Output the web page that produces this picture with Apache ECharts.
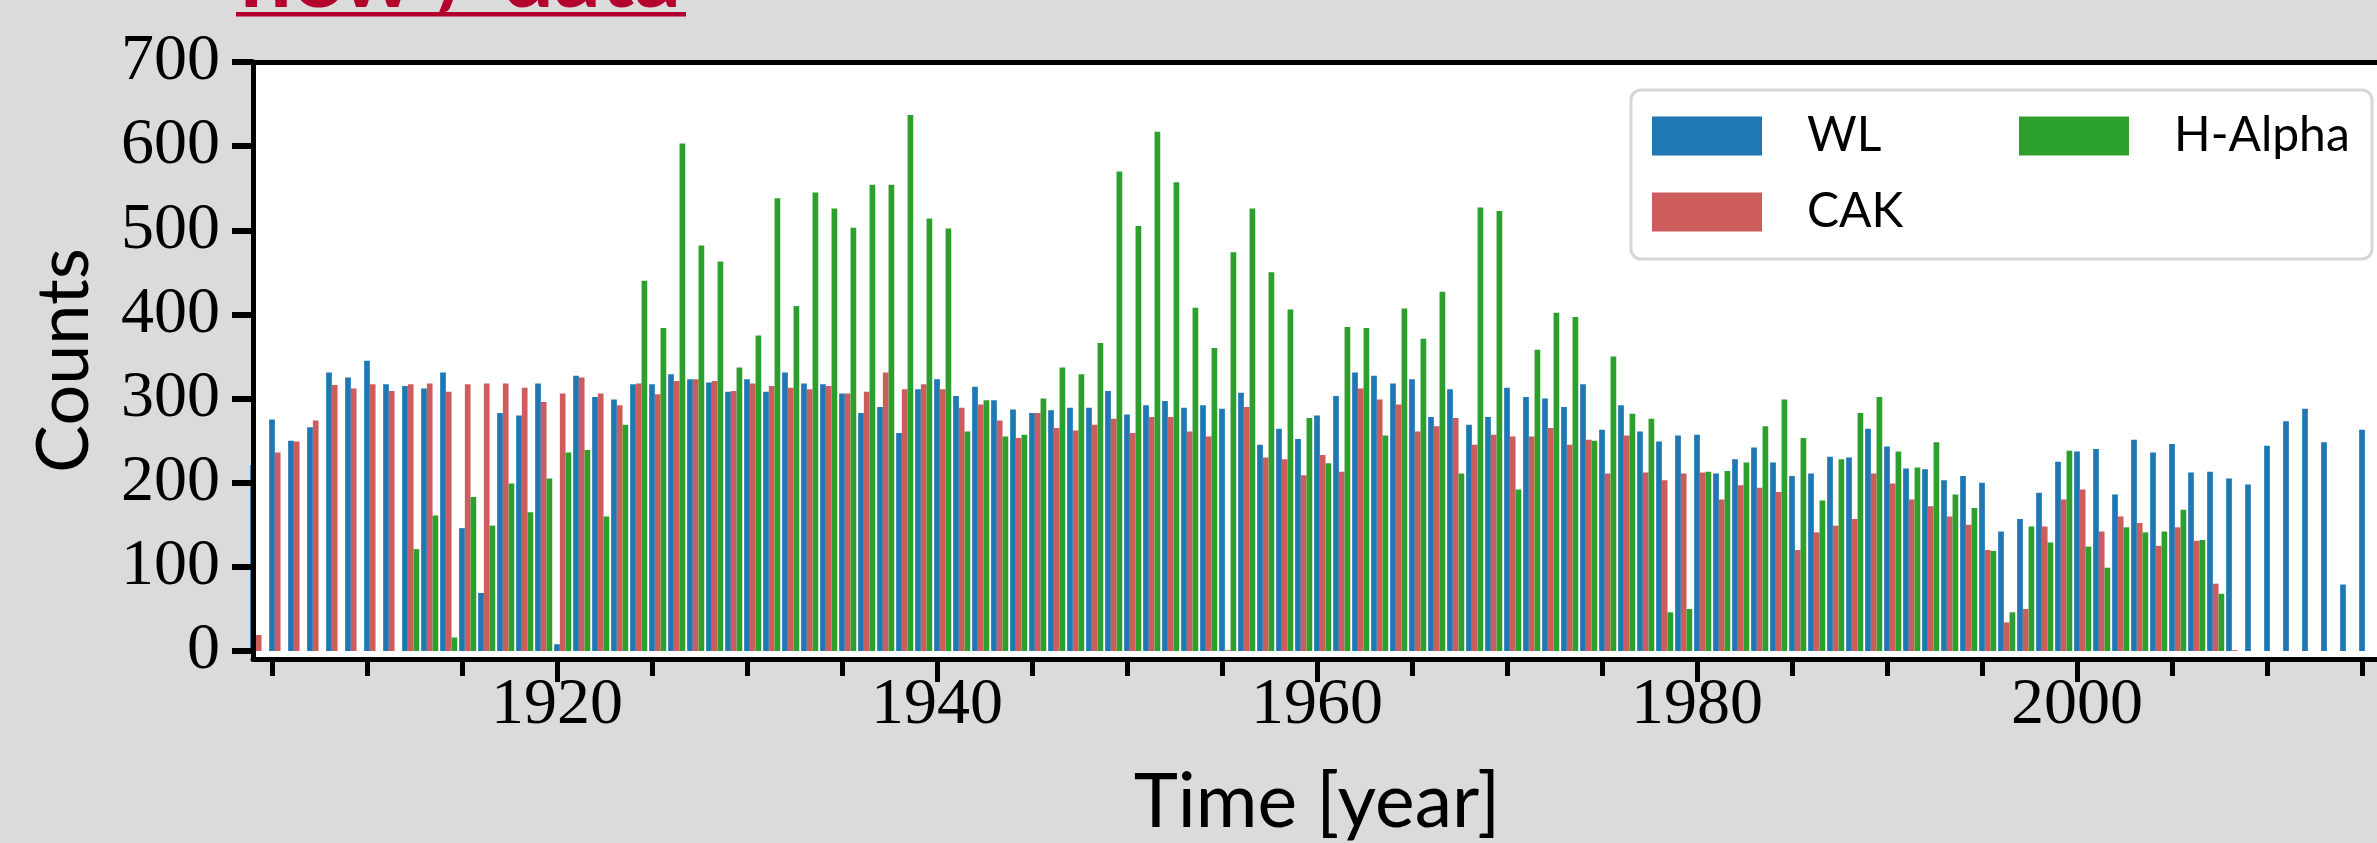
<!DOCTYPE html>
<html>
<head>
<meta charset="utf-8">
<title>Counts per year</title>
<script src="https://cdn.jsdelivr.net/npm/echarts@6/dist/echarts.min.js"></script>
<style>
    html, body { margin: 0; padding: 0; background: #dbdbdb; }
    #chart { width: 2377px; height: 843px; }
</style>
</head>
<body>
<div id="chart"></div>
<script>
// years 1904 .. 2015, one group of three bars per year
const firstYear = 1904;

const wl = [
    221, 275, 250, 266, 331, 325, 345, 317, 315, 312, 331, 146, 69, 283, 280, 318,   // 1904-1919
    8, 327, 302, 299, 317, 317, 329, 323, 319, 308, 323, 308, 331, 318, 317, 306,    // 1920-1935
    283, 290, 259, 311, 323, 303, 314, 298, 287, 283, 286, 289, 289, 309, 281, 292,  // 1936-1951
    297, 289, 292, 288, 307, 245, 264, 252, 280, 303, 331, 327, 318, 323, 278, 311,  // 1952-1967
    269, 278, 313, 302, 300, 290, 317, 263, 292, 261, 249, 256, 257, 211, 228, 242,  // 1968-1983
    224, 208, 211, 231, 230, 264, 243, 217, 216, 203, 208, 200, 142, 157, 188, 225,  // 1984-1999
    237, 240, 186, 251, 236, 246, 212, 213, 205, 198, 244, 273, 288, 248, 79, 263    // 2000-2015
];

const cak = [
    19, 236, 249, 274, 316, 312, 317, 309, 317, 318, 308, 317, 318, 318, 313, 296,   // 1904-1919
    306, 325, 306, 292, 318, 305, 321, 323, 321, 309, 318, 315, 313, 311, 315, 306,  // 1920-1935
    308, 331, 311, 317, 311, 289, 293, 274, 253, 283, 265, 262, 269, 276, 259, 278,  // 1936-1951
    278, 261, 255, 1, 290, 230, 228, 209, 233, 213, 312, 299, 293, 261, 267, 277,    // 1952-1967
    245, 257, 255, 255, 265, 245, 251, 211, 256, 212, 203, 211, 212, 180, 197, 194,  // 1968-1983
    189, 120, 141, 149, 157, 211, 199, 180, 172, 160, 150, 120, 34, 50, 148, 180,    // 1984-1999
    192, 142, 160, 152, 125, 147, 131, 80, 1, null, null, null, null, null, null, null // 2000-2015
];

const hAlpha = [
    null, null, null, null, null, null, null, null, 121, 161, 16, 183, 149, 199, 165, 205, // 1904-1919
    236, 239, 160, 269, 440, 384, 603, 482, 463, 337, 375, 538, 410, 545, 526, 503,        // 1920-1935
    554, 554, 637, 514, 502, 261, 298, 255, 257, 300, 337, 329, 366, 570, 505, 617,        // 1936-1951
    557, 408, 360, 474, 526, 450, 406, 277, 223, 385, 384, 256, 407, 371, 427, 211,        // 1952-1967
    527, 523, 192, 358, 402, 397, 250, 350, 282, 276, 46, 50, 213, 214, 224, 267,          // 1968-1983
    299, 253, 179, 228, 283, 302, 237, 218, 248, 186, 170, 119, 46, 148, 129, 238,         // 1984-1999
    124, 99, 147, 141, 142, 168, 132, 68, null, null, null, null, null, null, null, null   // 2000-2015
];

const years = wl.map((v, i) => firstYear + i);

// tick labels
const majorYears = [1920, 1940, 1960, 1980, 2000];
const minorYears = [1905, 1910, 1915, 1925, 1930, 1935, 1945, 1950, 1955, 1965, 1970, 1975,
    1985, 1990, 1995, 2005, 2010, 2015];
const countTicks = [0, 100, 200, 300, 400, 500, 600, 700];
const minorCounts = [];
for (let c = 20; c < 700; c += 20) {
    if (c % 100 !== 0) minorCounts.push(c);
}

const colors = { WL: '#1f77b4', CAK: '#cd5c5c', 'H-Alpha': '#2ca02c' };

// WL sits on the year, CAK and H-Alpha follow it -> group centre is year + 0.3
const groupShift = 0.3;
function toPoints(values) {
    return values.map((v, i) => [years[i] + groupShift, v]);
}

function barSeries(name, values) {
    return {
        name,
        type: 'bar',
        data: toPoints(values),
        barWidth: 5.7,
        barGap: '0%',
        itemStyle: { color: colors[name] },
        silent: true
    };
}

const legendCommon = {
    orient: 'horizontal',
    padding: 0,
    itemWidth: 110,
    itemHeight: 39,
    itemGap: 0,
    icon: 'rect',
    selectedMode: false,
    z: 10,
    textStyle: { fontFamily: 'Lato', fontSize: 48, color: '#000', lineHeight: 39, padding: [0, 0, 0, 40] }
};

const blackLine = { color: '#000', width: 5 };

const chart = echarts.init(document.getElementById('chart'));

chart.setOption({
    animation: false,
    backgroundColor: '#dbdbdb',
    grid: {
        left: 253, top: 62, right: -4, bottom: 184,
        show: true, backgroundColor: '#fff', borderWidth: 0,
        outerBoundsMode: 'none'
    },
    xAxis: [
        {
            type: 'value', min: 1904, max: 2016, position: 'bottom', z: 3,
            axisLine: { show: true, onZero: false, lineStyle: blackLine },
            splitLine: { show: false },
            axisTick: { customValues: majorYears, length: 23, lineStyle: { color: '#000', width: 5 } },
            axisLabel: {
                customValues: majorYears, fontFamily: 'Liberation Serif', fontSize: 66, color: '#000',
                margin: 14, formatter: v => String(v)
            },
            name: 'Time [year]', nameLocation: 'middle', nameGap: 106, nameMoveOverlap: false,
            nameTextStyle: { fontFamily: 'Lato', fontSize: 75, color: '#000' }
        },
        {
            type: 'value', min: 1904, max: 2016, position: 'bottom', z: 3,
            axisLine: { show: false, onZero: false }, splitLine: { show: false },
            axisTick: { customValues: minorYears, length: 17, lineStyle: { color: '#000', width: 5 } },
            axisLabel: { show: false }
        },
        {
            // top frame only
            type: 'value', min: 1904, max: 2016, position: 'top', z: 3,
            axisLine: { show: true, onZero: false, lineStyle: blackLine },
            splitLine: { show: false }, axisTick: { show: false }, axisLabel: { show: false }
        }
    ],
    yAxis: [
        {
            type: 'value', min: -9.5, max: 700, z: 3,
            axisLine: { show: true, onZero: false, lineStyle: blackLine },
            splitLine: { show: false },
            axisTick: { customValues: countTicks, length: 21, lineStyle: { color: '#000', width: 6 } },
            axisLabel: { customValues: countTicks, fontFamily: 'Liberation Serif', fontSize: 66, color: '#000', margin: 33 },
            name: 'Counts', nameLocation: 'middle', nameGap: 152, nameMoveOverlap: false,
            nameTextStyle: { fontFamily: 'Lato', fontSize: 72, color: '#000' }
        },
        {
            type: 'value', min: -9.5, max: 700, z: 3,
            axisLine: { show: false, onZero: false }, splitLine: { show: false },
            axisTick: { customValues: minorCounts, length: 16, lineStyle: { color: '#000', width: 3.5 } },
            axisLabel: { show: false }
        }
    ],
    legend: [
        Object.assign({ data: ['WL'], left: 1652, top: 112 }, legendCommon),
        Object.assign({ data: ['H-Alpha'], left: 2019, top: 112 }, legendCommon),
        Object.assign({ data: ['CAK'], left: 1652, top: 188 }, legendCommon)
    ],
    graphic: [
        // legend frame
        {
            type: 'rect', z: 3,
            shape: { x: 1631, y: 90, width: 741, height: 169, r: 10 },
            style: { fill: '#fff', stroke: '#d6d6d6', lineWidth: 3 }
        },
        // slide heading, mostly cut off at the top
        {
            type: 'text', x: 240, y: -23,
            style: { text: 'new / data', fontFamily: 'Lato', fontWeight: 'bold', fontSize: 92, fill: '#b4002c', verticalAlign: 'middle' }
        },
        {
            type: 'rect',
            shape: { x: 236, y: 12, width: 450, height: 4.5 },
            style: { fill: '#b4002c' }
        }
    ],
    series: [
        barSeries('WL', wl),
        barSeries('CAK', cak),
        barSeries('H-Alpha', hAlpha)
    ]
});
</script>
</body>
</html>
